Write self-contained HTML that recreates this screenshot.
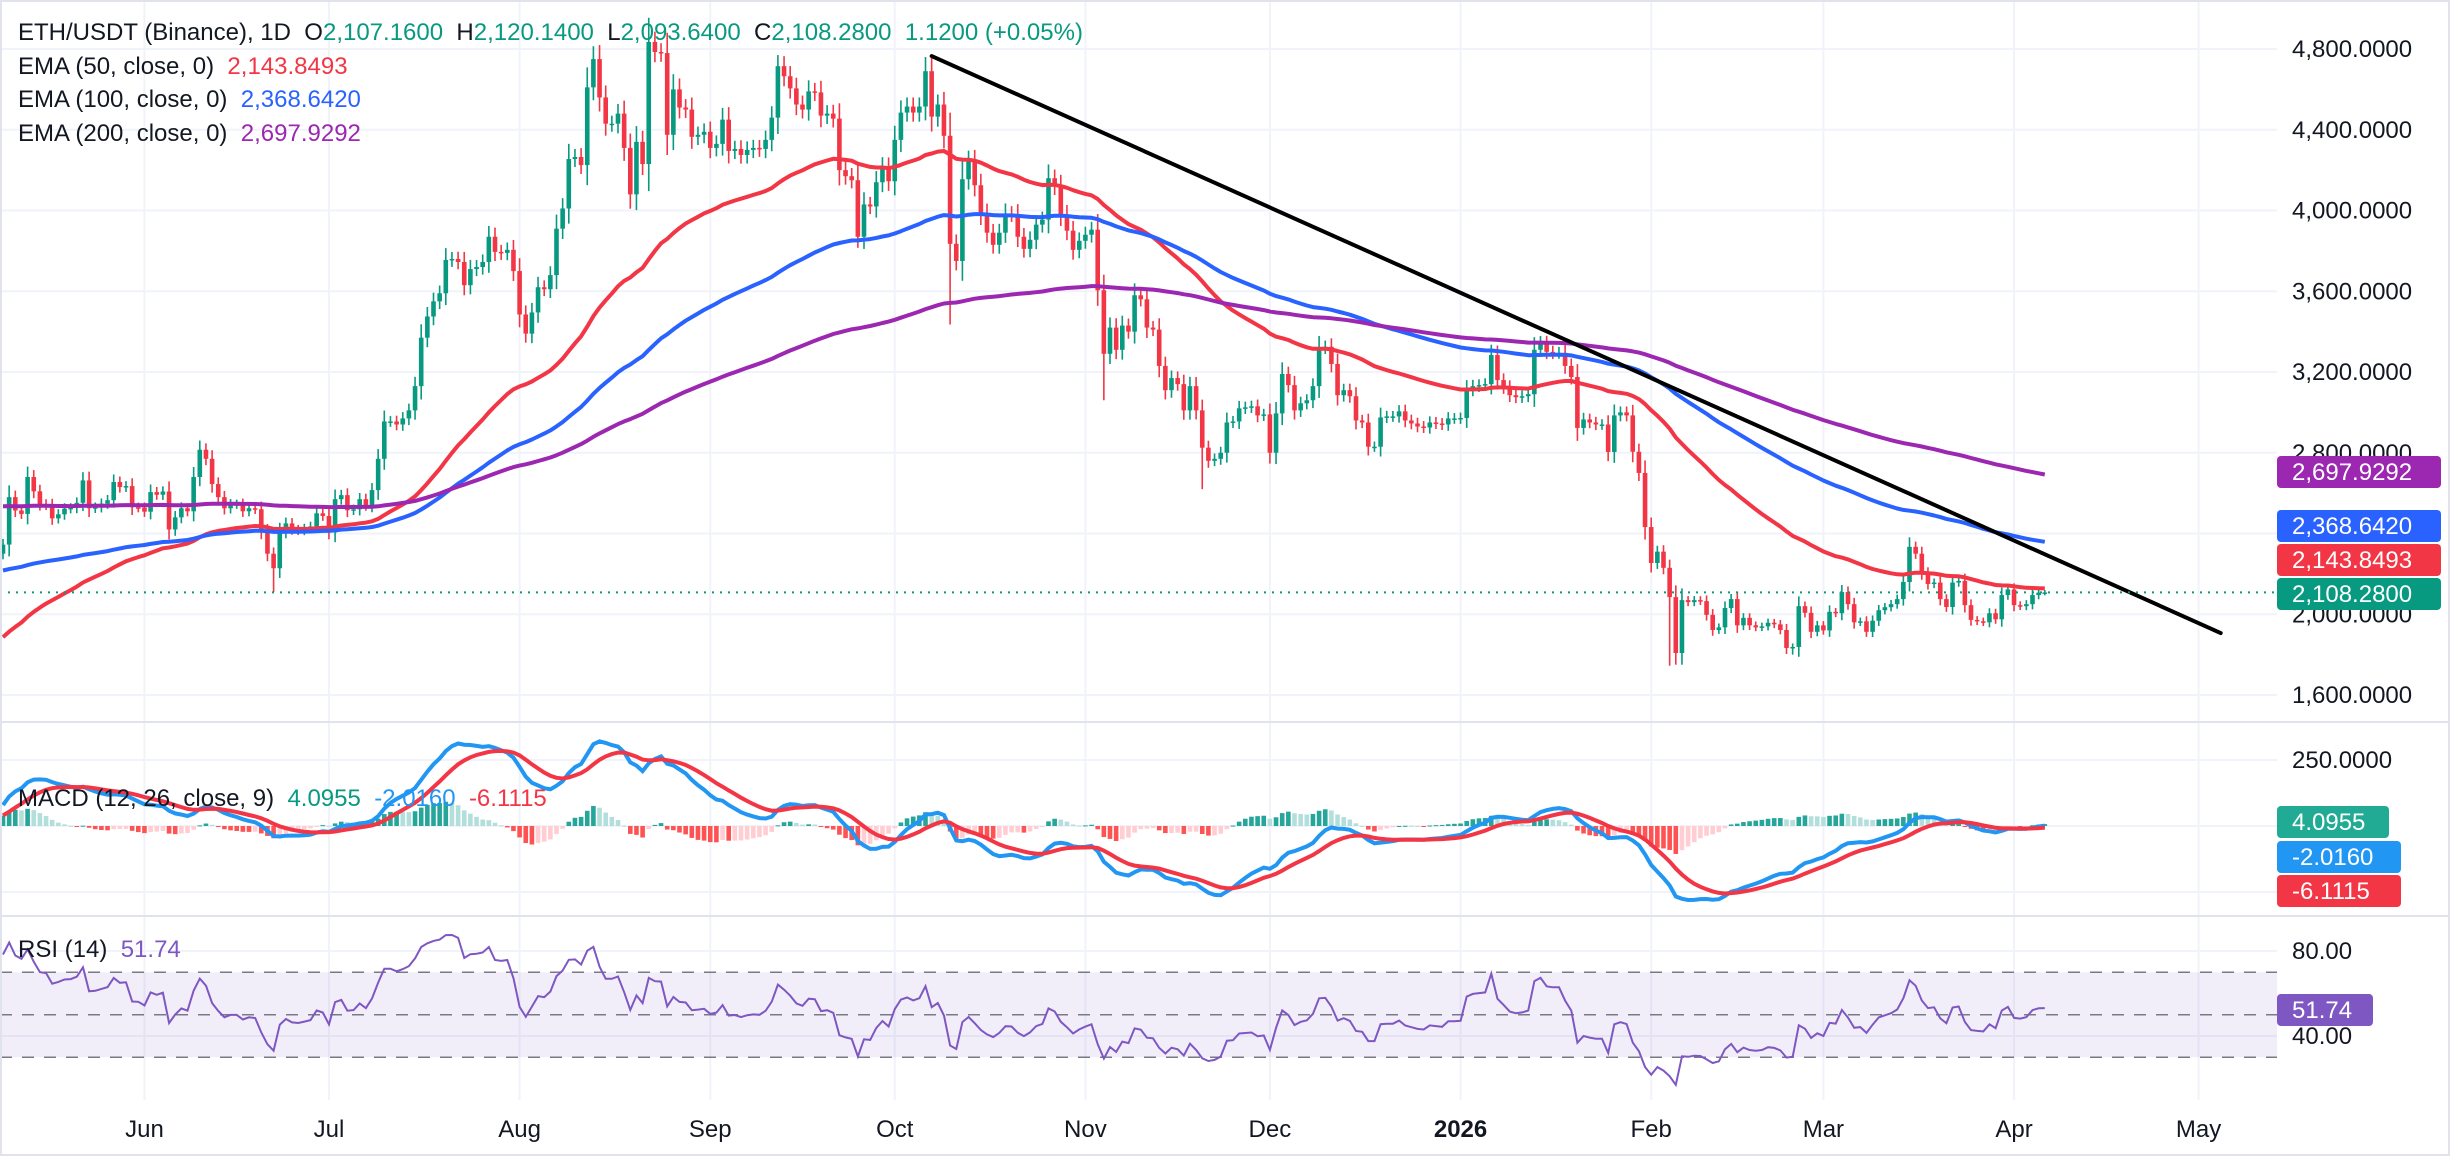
<!DOCTYPE html>
<html><head><meta charset="utf-8"><title>ETH/USDT chart</title>
<style>
html,body{margin:0;padding:0;background:#fff;}
body{width:2450px;height:1156px;overflow:hidden;font-family:"Liberation Sans",sans-serif;}
svg{display:block}
text{font-family:"Liberation Sans",sans-serif;white-space:pre;}
</style></head>
<body>
<svg id="chart" width="2450" height="1156" viewBox="0 0 2450 1156" xmlns="http://www.w3.org/2000/svg">
<defs>
<clipPath id="cp-price"><rect x="0" y="0" width="2277" height="722"/></clipPath>
<clipPath id="cp-macd"><rect x="0" y="723" width="2277" height="192"/></clipPath>
<clipPath id="cp-rsi"><rect x="0" y="917" width="2277" height="183"/></clipPath>
</defs>
<rect x="0" y="0" width="2450" height="1156" fill="#ffffff"/>
<g id="grid"></g>
<g id="price" clip-path="url(#cp-price)"></g>
<g id="macd" clip-path="url(#cp-macd)"></g>
<g id="rsi" clip-path="url(#cp-rsi)"></g>
<g id="axes"></g>
<g id="legend">
 <text x="18" y="40" font-size="24" fill="#131722">ETH/USDT (Binance), 1D  O<tspan fill="#089981">2,107.1600</tspan>  H<tspan fill="#089981">2,120.1400</tspan>  L<tspan fill="#089981">2,093.6400</tspan>  C<tspan fill="#089981">2,108.2800  1.1200 (+0.05%)</tspan></text>
 <text x="18" y="74" font-size="24" fill="#131722">EMA (50, close, 0)  <tspan fill="#f23645">2,143.8493</tspan></text>
 <text x="18" y="107" font-size="24" fill="#131722">EMA (100, close, 0)  <tspan fill="#2962ff">2,368.6420</tspan></text>
 <text x="18" y="141" font-size="24" fill="#131722">EMA (200, close, 0)  <tspan fill="#9c27b0">2,697.9292</tspan></text>
 <text x="18" y="806" font-size="24" fill="#131722">MACD (12, 26, close, 9)  <tspan fill="#089981">4.0955</tspan>  <tspan fill="#2196f3">-2.0160</tspan>  <tspan fill="#f23645">-6.1115</tspan></text>
 <text x="18" y="957" font-size="24" fill="#131722">RSI (14)  <tspan fill="#7e57c2">51.74</tspan></text>
</g>
</svg>
<script>
// ---- data ----
const monthLabels = ["Jun","Jul","Aug","Sep","Oct","Nov","Dec","2026","Feb","Mar","Apr","May"];
const monthStartIdx = [23,53,84,115,145,176,206,237,268,296,327,357];
const closes = [
2345,2580,2514,2497,2680,2609,2546,2540,2475,2495,2523,2527,2552,2663,2525,2530,2548,2565,2655,2630,2635,2530,2528,
2508,2605,2592,2608,2420,2480,2525,2510,2680,2815,2770,2645,2580,2525,2545,2545,2510,2525,2520,2410,2300,2228,2405,2450,2420,2415,2425,2435,2500,2487,
2405,2570,2590,2515,2520,2570,2540,2615,2770,2955,2955,2940,2970,3010,3130,3370,3475,3550,3590,3755,3760,3745,3630,3710,3720,3745,3870,3795,3790,3805,3700,
3485,3390,3495,3620,3610,3680,3910,4010,4255,4265,4225,4610,4750,4560,4430,4430,4480,4310,4080,4340,4230,4835,4785,4780,4375,4600,4510,4500,4365,4375,4390,
4310,4330,4450,4295,4305,4275,4300,4310,4305,4350,4460,4715,4665,4605,4525,4500,4590,4585,4470,4480,4455,4200,4170,4150,3870,4030,4020,4140,4215,4145,
4350,4485,4515,4485,4515,4690,4465,4525,4370,3835,3750,4155,4245,4125,3985,3890,3830,3890,3985,3980,3870,3810,3855,3930,3955,4160,4120,3980,3900,3805,3850,
3880,3905,3605,3290,3420,3310,3430,3400,3580,3560,3420,3410,3230,3110,3170,3140,3010,3130,3010,2825,2760,2770,2800,2950,2955,3020,3025,3030,2985,2990,
2800,2995,3190,3135,3010,3045,3060,3130,3320,3325,3240,3085,3110,3080,2960,2950,2830,2830,2975,2980,2980,3005,2960,2945,2930,2925,2950,2945,2940,2970,2970,
2972,3111,3130,3135,3140,3284,3160,3125,3085,3075,3080,3090,3310,3343,3300,3295,3295,3230,3175,2923,2965,2950,2940,2940,2804,2985,3000,2985,2805,2700,2432,
2254,2310,2230,2085,1808,2070,2060,2070,2065,1997,1922,1935,2031,2075,1945,1982,1945,1935,1940,1958,1950,1922,1833,1838,2040,2007,1913,1945,
1920,2012,2005,2110,2050,1960,1965,1913,1968,2020,2035,2050,2075,2160,2334,2300,2205,2150,2157,2075,2036,2157,2165,2045,1972,1965,1960,2005,1975,2095,2123,
2045,2040,2050,2095,2107.16,2108.28
];
const firstOpen = 2300;
const wickLowIdx = [44,154,195,271,291,139,179];
const wickLowVal = [2110,3435,2620,1745,1800,3815,3060];
const wickHighIdx = [105,126,150];
const wickHighVal = [4955,4770,4760];
const lastHigh = 2120.14, lastLow = 2093.64;
const priceTicks = [4800,4400,4000,3600,3200,2800,2400,2000,1600];
const priceTickLabels = ["4,800.0000","4,400.0000","4,000.0000","3,600.0000","3,200.0000","2,800.0000","","2,000.0000","1,600.0000"];
const emaSeeds = [1868,2214,2537];
const macdSeed = [2050,1990,30];
const rsiSeed = [40,12];
const macdTicks = [250,0,-250];
const macdTickLabels = ["250.0000","0.0000","-250.0000"];
const rsiTicks = [80,40];
const rsiTickLabels = ["80.00","40.00"];
const trendIdx = [151,360.6];
const trendPrice = [4765,1907];

// ---- scales ----
const X0 = 3, DX = 6.15, PLOT_R = 2277;
function xs(i){return X0 + i*DX;}
function py(p){return 49 + (4800-p)*646/3200;}
function my(v){return 826 - v*0.264;}
function ry(r){return 951 + (80-r)*2.125;}

const NS = "http://www.w3.org/2000/svg";
function mk(parent, tag, attrs, txt){
  const e = document.createElementNS(NS, tag);
  for (const k in attrs) e.setAttribute(k, attrs[k]);
  if (txt !== undefined) e.textContent = txt;
  parent.appendChild(e);
  return e;
}
const G = id => document.getElementById(id);
const grid = G('grid'), price = G('price'), macdG = G('macd'), rsiG = G('rsi'), axes = G('axes');

// grid
monthStartIdx.forEach((mi,k)=>{
  const l = mk(grid,'line',{x1:xs(mi),x2:xs(mi),y1:0,y2:1100,stroke:'#f0f3fa','stroke-width':2});
  
  
});
priceTicks.forEach(p=>{
  const l = mk(grid,'line',{x1:0,x2:PLOT_R,y1:py(p),y2:py(p),stroke:'#f0f3fa','stroke-width':2});
  
  
});
macdTicks.forEach(v=>{
  const l = mk(grid,'line',{x1:0,x2:PLOT_R,y1:my(v),y2:my(v),stroke:'#f0f3fa','stroke-width':2});
  
  
});
rsiTicks.forEach(v=>{
  const l = mk(grid,'line',{x1:0,x2:PLOT_R,y1:ry(v),y2:ry(v),stroke:'#f0f3fa','stroke-width':2});
  
  
});

// candles
const n = closes.length;
for (let i=0;i<n;i++){
  const c = closes[i];
  const o = i===0 ? firstOpen : (i===n-1 ? 2107.16 : closes[i-1]);
  let hi = Math.max(o,c) + Math.abs(c-o)*0.15 + c*0.009;
  let lo = Math.min(o,c) - Math.abs(c-o)*0.15 - c*0.009;
  const li = wickLowIdx.indexOf(i); if (li>=0) lo = wickLowVal[li];
  const hi2 = wickHighIdx.indexOf(i); if (hi2>=0) hi = wickHighVal[hi2];
  if (i===n-1){hi=lastHigh;lo=lastLow;}
  const col = c>=o ? '#089981' : '#f23645';
  const x = xs(i);
  const w = mk(price,'line',{x1:x,x2:x,y1:py(hi),y2:py(lo),stroke:col,'stroke-width':1.6});
  
  
  const yt = py(Math.max(o,c)), yb = py(Math.min(o,c));
  const b = mk(price,'rect',{x:x-2.3,y:yt,width:4.6,height:Math.max(1.5,yb-yt),fill:col});
  
  
}

// EMAs
function ema(seed, period){
  const k = 2/(period+1); let v = seed; const out=[];
  closes.forEach(c=>{v = v + k*(c-v); out.push(v);});
  return out;
}
const emaCols = ['#f23645','#2962ff','#9c27b0'];
const emaNames = ['ema50-line','ema100-line','ema200-line'];
[50,100,200].forEach((p,k)=>{
  const vals = ema(emaSeeds[k], p);
  const d = vals.map((v,i)=>(i?'L':'M')+xs(i).toFixed(1)+','+py(v).toFixed(1)).join('');
  const pl = mk(price,'path',{d:d,fill:'none',stroke:emaCols[k],'stroke-width':4,'stroke-linejoin':'round'});
  
  
});

// trendline
const tl = mk(price,'line',{x1:xs(trendIdx[0]),y1:py(trendPrice[0]),x2:xs(trendIdx[1]),y2:py(trendPrice[1]),stroke:'#000','stroke-width':4,'stroke-linecap':'round'});



// current price line
const lastC = closes[n-1];
const cpl = mk(price,'line',{x1:0,x2:PLOT_R,y1:py(lastC),y2:py(lastC),stroke:'#089981','stroke-width':2,'stroke-dasharray':'2 6'});



// MACD
const k12=2/13,k26=2/27,k9=2/10;
let e12=macdSeed[0], e26=macdSeed[1], sig=macdSeed[2];
const macdVals=[], sigVals=[], histVals=[];
closes.forEach(c=>{e12+=k12*(c-e12); e26+=k26*(c-e26); const m=e12-e26; sig+=k9*(m-sig); macdVals.push(m); sigVals.push(sig); histVals.push(m-sig);});
histVals.forEach((h,i)=>{
  const prev = i? histVals[i-1] : h;
  let col;
  if (h>=0) col = h>=prev ? '#26a69a' : '#b2dfdb'; else col = h<prev ? '#ff5252' : '#ffcdd2';
  const y0 = my(0), y1 = my(h);
  const r = mk(macdG,'rect',{x:xs(i)-2.3,y:Math.min(y0,y1),width:4.6,height:Math.max(1,Math.abs(y1-y0)),fill:col});
  
  
});
const mpath = macdVals.map((v,i)=>(i?'L':'M')+xs(i).toFixed(1)+','+my(v).toFixed(1)).join('');
const ml = mk(macdG,'path',{d:mpath,fill:'none',stroke:'#2196f3','stroke-width':4});


const spath = sigVals.map((v,i)=>(i?'L':'M')+xs(i).toFixed(1)+','+my(v).toFixed(1)).join('');
const sl = mk(macdG,'path',{d:spath,fill:'none',stroke:'#f23645','stroke-width':4});



// RSI
const band = mk(rsiG,'rect',{x:0,y:ry(70),width:PLOT_R,height:ry(30)-ry(70),fill:'rgba(126,87,194,0.1)'});


[70,50,30].forEach(v=>{
  const l = mk(rsiG,'line',{x1:0,x2:PLOT_R,y1:ry(v),y2:ry(v),stroke:'#787b86','stroke-width':1.5,'stroke-dasharray':'12 10'});
  
  
});
let ag=rsiSeed[0], al=rsiSeed[1]; const rsiVals=[];
closes.forEach((c,i)=>{
  const prev = i? closes[i-1] : firstOpen;
  const ch = c-prev;
  ag = (ag*13 + Math.max(ch,0))/14; al = (al*13 + Math.max(-ch,0))/14;
  rsiVals.push(100 - 100/(1+ag/al));
});
const rp = rsiVals.map((v,i)=>(i?'L':'M')+xs(i).toFixed(1)+','+ry(v).toFixed(1)).join('');
const rl = mk(rsiG,'path',{d:rp,fill:'none',stroke:'#7e57c2','stroke-width':2});



// pane separators & borders
[722,916].forEach(y=>{
  const l = mk(axes,'line',{x1:0,x2:2450,y1:y,y2:y,stroke:'#e0e3eb','stroke-width':2});
  
  
});
const ab = mk(axes,'rect',{x:0,y:1100,width:2450,height:56,fill:'#ffffff'});


const bb = mk(axes,'rect',{x:1,y:1,width:2448,height:1154,fill:'none',stroke:'#e0e3eb','stroke-width':2});



// axis labels
priceTicks.forEach((p,k)=>{
  const t = mk(axes,'text',{x:2292,y:py(p)+8,'font-size':24,fill:'#131722'},priceTickLabels[k]);
  
  
});
macdTicks.forEach((v,k)=>{
  const t = mk(axes,'text',{x:2292,y:my(v)+8,'font-size':24,fill:'#131722'},macdTickLabels[k]);
  
  
});
rsiTicks.forEach((v,k)=>{
  const t = mk(axes,'text',{x:2292,y:ry(v)+8,'font-size':24,fill:'#131722'},rsiTickLabels[k]);
  
  
});
monthLabels.forEach((m,k)=>{
  const t = mk(axes,'text',{x:xs(monthStartIdx[k]),y:1137,'font-size':24,fill:'#131722','text-anchor':'middle','font-weight':m==='2026'?'bold':'normal'},m);
  
  
});

// value badges
const badgeText = ["2,697.9292","2,368.6420","2,143.8493","2,108.2800","4.0955","-2.0160","-6.1115","51.74"];
const badgeY = [472,526,560,594,822,857,891,1010];
const badgeCol = ['#9c27b0','#2962ff','#f23645','#089981','#22ab94','#2196f3','#f23645','#7e57c2'];
const badgeW = [164,164,164,164,112,124,124,96];
badgeText.forEach((s,k)=>{
  const r = mk(axes,'rect',{x:PLOT_R,y:badgeY[k]-16,width:badgeW[k],height:32,rx:4,fill:badgeCol[k]});
  
  
  const t = mk(axes,'text',{x:2292,y:badgeY[k]+8,'font-size':24,fill:'#ffffff'},s);
  
  
});
</script>
</body></html>
